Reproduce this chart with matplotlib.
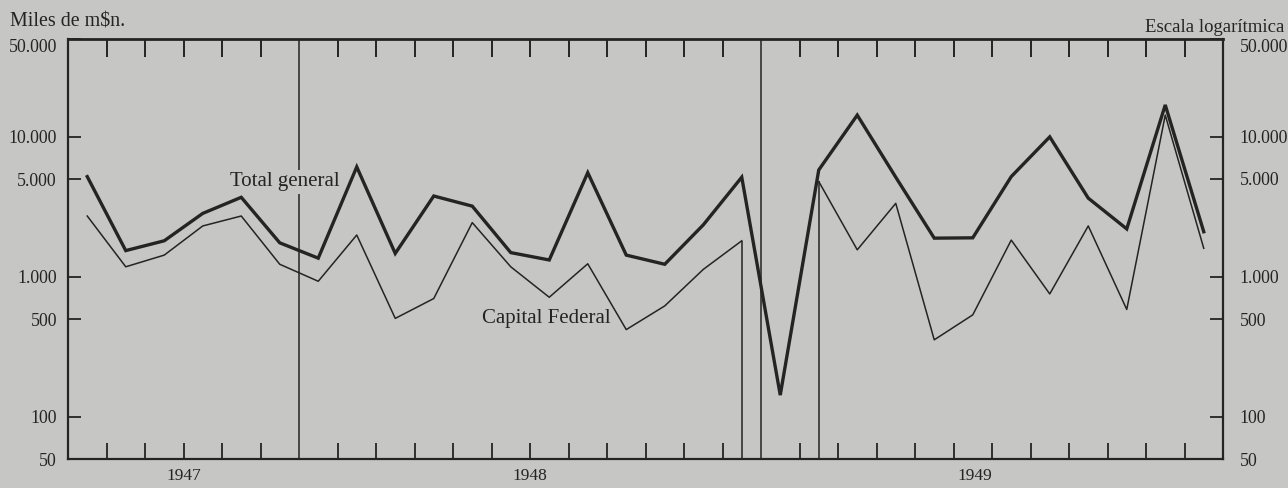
import numpy as np
import matplotlib.pyplot as plt
from matplotlib.ticker import FixedLocator, NullLocator, NullFormatter

# ---------------- data ----------------
months = [f"{y}-{m:02d}" for y in (1947, 1948, 1949) for m in range(1, 13)][6:]  # Jul 1947 .. Dec 1949
years = ["1947", "1948", "1949"]

total_general = [5200, 1540, 1810, 2840, 3700, 1750, 1360, 6100, 1470, 3780,
                 3200, 1490, 1320, 5550, 1430, 1230, 2350, 5150, 143, 5800,
                 14300, 5150, 1890, 1900, 5200, 10000, 3650, 2200, 16900, 2100]
capital_federal = [2720, 1180, 1430, 2310, 2720, 1230, 930, 1990, 505, 700,
                   2440, 1180, 715, 1240, 420, 620, 1130, 1810, np.nan, 4800,
                   1560, 3350, 355, 535, 1830, 755, 2310, 585, 14300, 1600]

ytick_values = [50, 100, 500, 1000, 5000, 10000, 50000]
ytick_labels = ["50", "100", "500", "1.000", "5.000", "10.000", "50.000"]

# ---------------- style ----------------
BG = "#c6c6c4"
INK = "#242424"
FONT = "Liberation Serif"
plt.rcParams["font.family"] = [FONT, "DejaVu Serif"]
TICK_FS = 12.8

fig = plt.figure(figsize=(12.88, 4.88), dpi=100, facecolor=BG)
ax = fig.add_axes([68 / 1288, 1 - 459 / 488, (1223 - 68) / 1288, (459 - 39) / 488])
ax.set_facecolor(BG)

n = len(months)
x = np.arange(n) + 0.5
ymin, ymax = ytick_values[0], ytick_values[-1]

ax.set_yscale("log")
ax.set_ylim(ymin, ymax)
ax.set_xlim(0, n)

# year boundaries (index of January)
year_starts = [i for i, m in enumerate(months) if m.endswith("-01")]
for b in year_starts:
    ax.axvline(b, color=INK, lw=1.1, zorder=1)

# series
ax.plot(x, total_general, color=INK, lw=2.4, solid_joinstyle="miter", zorder=4)
cf = np.array(capital_federal, dtype=float)
ax.plot(x, cf, color=INK, lw=1.1, zorder=4)
# missing value: line drops to the base of the chart on each side of the gap
for i in range(n):
    if np.isnan(cf[i]):
        if i > 0 and not np.isnan(cf[i - 1]):
            ax.vlines(x[i - 1], ymin, cf[i - 1], color=INK, lw=1.1, zorder=4)
        if i < n - 1 and not np.isnan(cf[i + 1]):
            ax.vlines(x[i + 1], ymin, cf[i + 1], color=INK, lw=1.1, zorder=4)

# spines
for s in ax.spines.values():
    s.set_color(INK)
    s.set_linewidth(1.6)
ax.spines["top"].set_linewidth(2.0)

# x ticks at month boundaries (not at year boundaries / ends)
month_edges = [i for i in range(1, n) if i not in year_starts]
ax.xaxis.set_major_locator(FixedLocator(month_edges))
ax.xaxis.set_major_formatter(NullFormatter())
ax.tick_params(axis="x", which="major", direction="in", length=11.5, width=1.3,
               color=INK, bottom=True, top=False)
topax = ax.secondary_xaxis("top")
topax.set_xticks(month_edges)
topax.xaxis.set_major_formatter(NullFormatter())
topax.tick_params(axis="x", direction="in", length=13, width=1.4, color=INK)
topax.spines["top"].set_visible(False)

# y ticks
ax.yaxis.set_major_locator(FixedLocator(ytick_values))
ax.yaxis.set_minor_locator(NullLocator())
ax.set_yticklabels(ytick_labels)
ax.tick_params(axis="y", which="major", direction="in", length=9.5, width=1.3,
               color=INK, labelsize=TICK_FS, labelcolor=INK, pad=8)
ax2 = ax.twinx()
ax2.set_yscale("log")
ax2.set_ylim(ymin, ymax)
ax2.yaxis.set_major_locator(FixedLocator(ytick_values))
ax2.yaxis.set_minor_locator(NullLocator())
ax2.set_yticklabels(ytick_labels)
ax2.tick_params(axis="y", which="major", direction="in", length=9.5, width=1.3,
                color=INK, labelsize=TICK_FS, labelcolor=INK, pad=12)
for s in ax2.spines.values():
    s.set_visible(False)
# the topmost labels sit just below the top edge
ax.get_yticklabels()[-1].set_va("top")
ax2.get_yticklabels()[-1].set_va("top")

# year labels below axis
year_label_x = [3.0, 12.0, 23.55]
for yl, xp in zip(years, year_label_x):
    ax.text(xp, -0.022, yl, transform=ax.get_xaxis_transform(), ha="center",
            va="top", fontsize=12.5, color=INK)

# series labels
ax.text(5.64, 4760, "Total general", ha="center", va="center", fontsize=15,
        color=INK, zorder=3,
        bbox=dict(facecolor=BG, edgecolor="none", pad=1.5))
ax.text(12.42, 508, "Capital Federal", ha="center", va="center", fontsize=15,
        color=INK, zorder=3)

# header texts
fig.text(10 / 1288, 1 - 22 / 488, "Miles de m$n.", ha="left", va="center",
         fontsize=14.4, color=INK, parse_math=False)
fig.text(1284 / 1288, 1 - 27 / 488, "Escala logarítmica", ha="right",
         va="center", fontsize=13.5, color=INK)

fig.savefig("out.png", dpi=100, facecolor=BG)
